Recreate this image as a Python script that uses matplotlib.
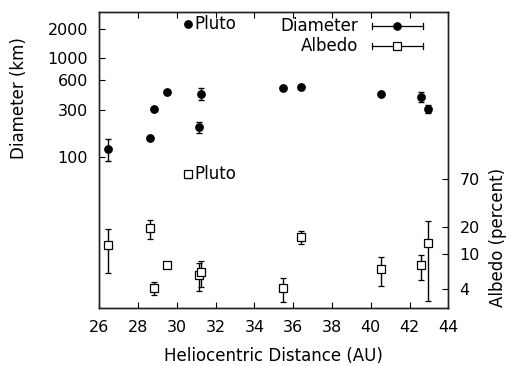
import matplotlib
matplotlib.use("Agg")
import matplotlib.pyplot as plt
from matplotlib.lines import Line2D

plt.rcParams['font.family'] = ['DejaVu Sans']

# Data
distance = [26.45, 28.63, 28.82, 29.49, 31.12, 31.27, 35.47, 36.38, 40.54, 42.58, 42.93]
diameter = [120, 156, 305, 451, 199, 437, 502, 505, 431, 407, 305]
diameter_err = [30, 8, 10, 15, 25, 60, 10, 15, 10, 45, 30]
albedo = [12.6, 19.6, 4.07, 7.55, 5.8, 6.2, 4.07, 15.6, 6.7, 7.4, 13.4]
albedo_err = [6.6, 4.7, 0.7, 0.5, 2.0, 2.0, 1.2, 2.8, 2.4, 2.3, 10.5]

pluto_distance = 30.6
pluto_diameter = 2250
pluto_albedo = 80
pluto_albedo_err = 7

xticks = [26, 28, 30, 32, 34, 36, 38, 40, 42, 44]
diam_ticks = [100, 300, 600, 1000, 2000]
alb_ticks = [4, 10, 20, 70]

W, H = 511, 366
fig = plt.figure(figsize=(W / 100, H / 100), dpi=100)
ax = fig.add_axes([99.2 / W, 1 - 307.7 / H, (448.4 - 99.2) / W, (307.7 - 12) / H])
ax2 = ax.twinx()

ax.set_xlim(26, 44)
ax.set_yscale('log')
ax.set_ylim(2.92, 2950)
ax2.set_yscale('log')
ax2.set_ylim(2.45, 5550)

ax.errorbar(distance, diameter, yerr=diameter_err, fmt='o', color='black',
            ms=5.3, capsize=2.5, elinewidth=1, capthick=1)
ax.errorbar([pluto_distance], [pluto_diameter], fmt='o', color='black', ms=5.3)
ax2.errorbar(distance, albedo, yerr=albedo_err, fmt='s', color='black', mfc='white',
             ms=5.5, mew=0.9, capsize=2.5, elinewidth=1, capthick=1)
ax2.errorbar([pluto_distance], [pluto_albedo], yerr=[pluto_albedo_err], fmt='s', color='black',
             mfc='white', ms=5.5, mew=0.9, capsize=2.5, elinewidth=1, capthick=1)

ax2.annotate('Pluto', (pluto_distance, pluto_albedo), xytext=(4, 0), textcoords='offset points',
             ha='left', va='center', fontsize=12)
ax.annotate('Pluto', (pluto_distance, pluto_diameter), xytext=(4, 0), textcoords='offset points',
            ha='left', va='center', fontsize=12)

ax.set_xticks(xticks)
ax.set_xticklabels([str(t) for t in xticks])
ax.set_yticks(diam_ticks)
ax.set_yticklabels([str(t) for t in diam_ticks])
ax.yaxis.set_minor_locator(matplotlib.ticker.NullLocator())
ax2.set_yticks(alb_ticks)
ax2.set_yticklabels([str(t) for t in alb_ticks])
ax2.yaxis.set_minor_locator(matplotlib.ticker.NullLocator())

ax.tick_params(axis='x', direction='in', top=True, length=4, pad=8.5, labelsize=11.5)
ax.tick_params(axis='y', direction='in', right=False, length=4, pad=8, labelsize=11.5)
ax2.tick_params(axis='y', direction='in', length=4, pad=8, labelsize=11.5)

for a in (ax, ax2):
    for s in a.spines.values():
        s.set_color('#222222')
        s.set_linewidth(1)

ax.set_xlabel('Heliocentric Distance (AU)', fontsize=12)
ax.xaxis.set_label_coords(0.498, -0.133)
ax.set_ylabel('Diameter (km)', fontsize=12)
ax.yaxis.set_label_coords(-0.203, 0.71)
ax2.set_ylabel('Albedo (percent)', fontsize=12, rotation=90)
ax2.yaxis.set_label_coords(1.117, 0.236, transform=ax2.transAxes)

# Legend (gnuplot style) drawn in axes coordinates
def ax_x(px):
    return (px - 99.2) / (448.4 - 99.2)

def ax_y(py):
    return (307.7 - py) / (307.7 - 12)

legend_rows = [('Diameter', 25.7, 'o', 'black'), ('Albedo', 46, 's', 'white')]
for label, py, mk, fc in legend_rows:
    ax.text(ax_x(358), ax_y(py), label, transform=ax.transAxes, ha='right', va='center', fontsize=12)
    ax.add_line(Line2D([ax_x(372), ax_x(423)], [ax_y(py)] * 2, transform=ax.transAxes,
                       color='black', lw=0.9, clip_on=False))
    for ex in (372, 423):
        ax.add_line(Line2D([ax_x(ex)] * 2, [ax_y(py - 3), ax_y(py + 3)], transform=ax.transAxes,
                           color='black', lw=0.9, clip_on=False))
    ax.add_line(Line2D([ax_x(397)], [ax_y(py)], transform=ax.transAxes, marker=mk,
                       color='black', mfc=fc, ms=5.3 if mk == 'o' else 5.5, mew=0.9,
                       linestyle='none', clip_on=False))

fig.savefig('out.png', dpi=100)
